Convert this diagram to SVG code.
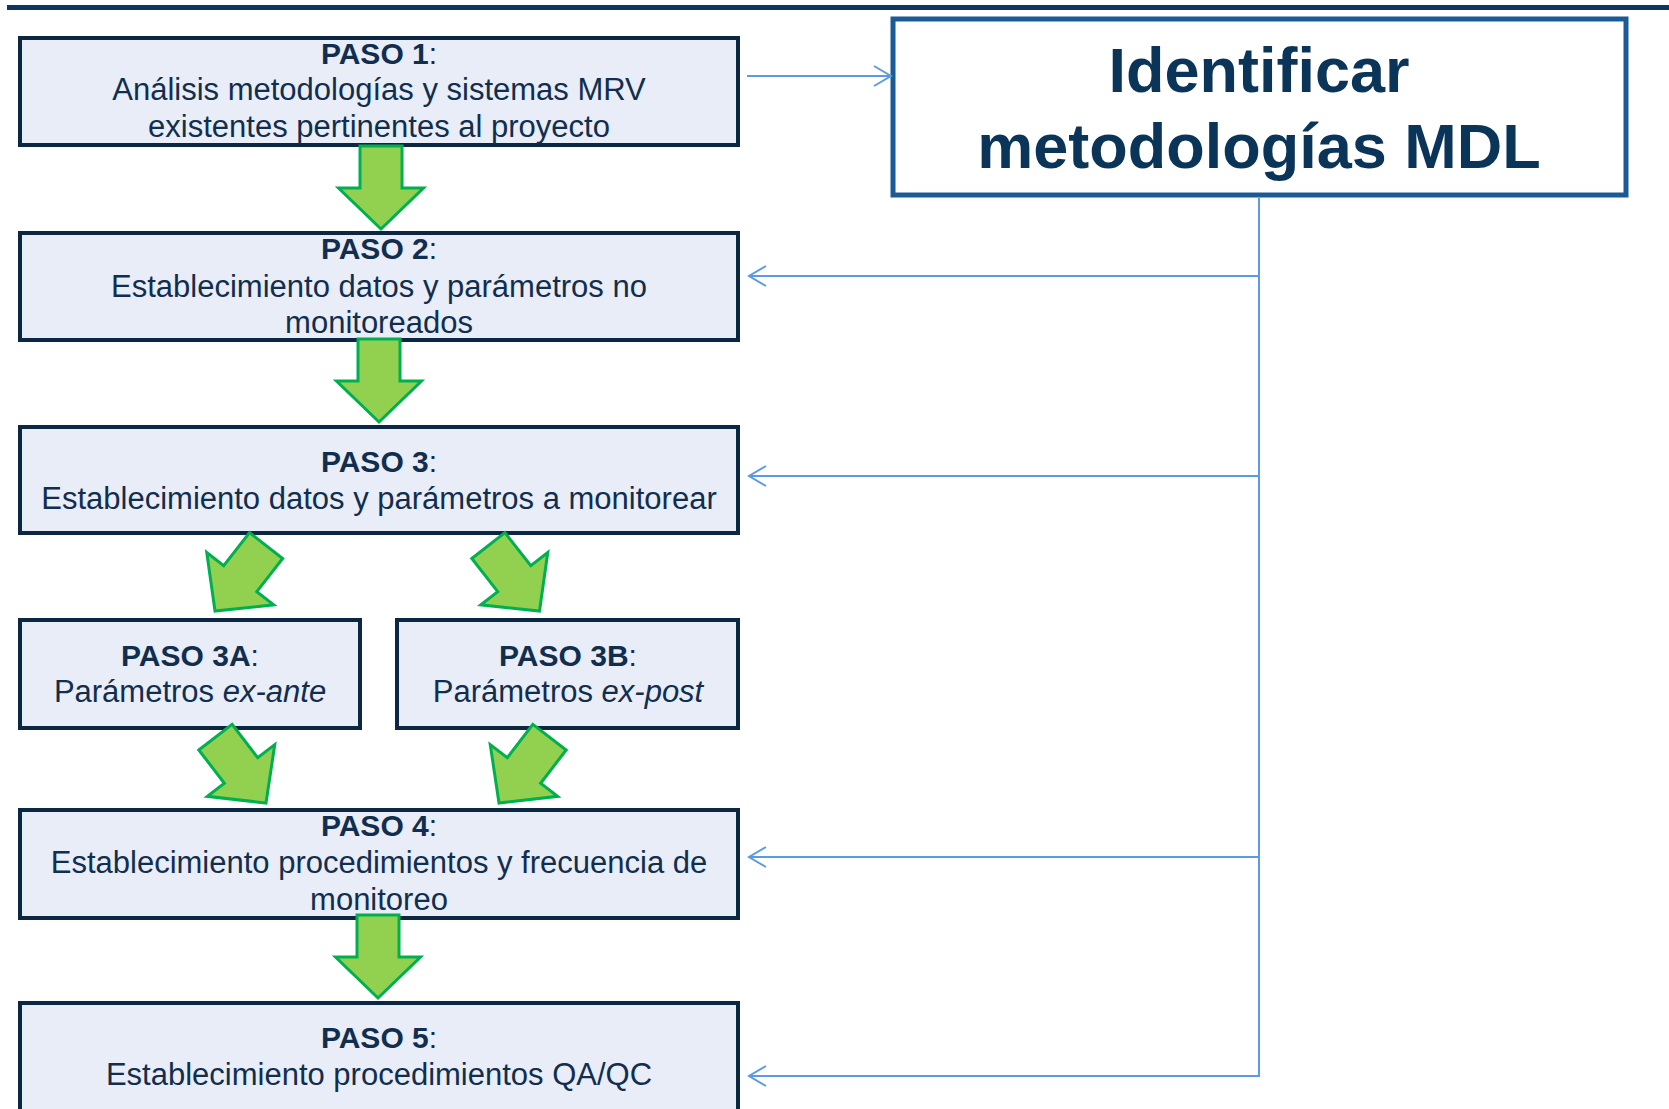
<svg xmlns="http://www.w3.org/2000/svg" width="1669" height="1109" viewBox="0 0 1669 1109">
  <style>
    .box { fill: #e9edf8; stroke: #0c2741; stroke-width: 4; }
    .t { font-family: "Liberation Sans", Arial, sans-serif; font-size: 31px; fill: #112e4e; text-anchor: middle; }
    .b { font-weight: bold; font-size: 30px; }
    .c { font-size: 30px; }
    .i { font-style: italic; }
    .big { font-family: "Liberation Sans", Arial, sans-serif; font-size: 63px; font-weight: bold; fill: #0b3558; text-anchor: middle; }
    .link { fill: none; stroke: #5b9be0; stroke-width: 2; }
    .garrow { fill: #92d050; stroke: #00b050; stroke-width: 3; stroke-linejoin: miter; }
  </style>
  <defs>
    <marker id="open" markerUnits="userSpaceOnUse" markerWidth="24" markerHeight="24" viewBox="-20 -12 22 24" refX="0" refY="0" orient="auto">
      <path d="M -17 -10 L 0 0 L -17 10" fill="none" stroke="#5b9be0" stroke-width="2"/>
    </marker>
    <polygon id="ga" points="-21,-83 21,-83 21,-41 42.5,-41 0,0 -42.5,-41 -21,-41"/>
  </defs>

  <rect x="7" y="5" width="1662" height="5" fill="#0f3562"/>

  <g id="paso1">
    <rect class="box" x="20" y="38" width="718" height="107"/>
    <text class="t" x="379" y="64"><tspan class="b">PASO 1</tspan><tspan class="c">:</tspan></text>
    <text class="t" x="379" y="100">Análisis metodologías y sistemas MRV</text>
    <text class="t" x="379" y="137">existentes pertinentes al proyecto</text>
  </g>

  <g id="paso2">
    <rect class="box" x="20" y="233" width="718" height="107"/>
    <text class="t" x="379" y="259"><tspan class="b">PASO 2</tspan><tspan class="c">:</tspan></text>
    <text class="t" x="379" y="297">Establecimiento datos y parámetros no</text>
    <text class="t" x="379" y="333">monitoreados</text>
  </g>

  <g id="paso3">
    <rect class="box" x="20" y="427" width="718" height="106"/>
    <text class="t" x="379" y="472"><tspan class="b">PASO 3</tspan><tspan class="c">:</tspan></text>
    <text class="t" x="379" y="509">Establecimiento datos y parámetros a monitorear</text>
  </g>

  <g id="paso3a">
    <rect class="box" x="20" y="620" width="340" height="108"/>
    <text class="t" x="190" y="666"><tspan class="b">PASO 3A</tspan><tspan class="c">:</tspan></text>
    <text class="t" x="190" y="702">Parámetros <tspan class="i">ex-ante</tspan></text>
  </g>

  <g id="paso3b">
    <rect class="box" x="397" y="620" width="341" height="108"/>
    <text class="t" x="568" y="666"><tspan class="b">PASO 3B</tspan><tspan class="c">:</tspan></text>
    <text class="t" x="568" y="702">Parámetros <tspan class="i">ex-post</tspan></text>
  </g>

  <g id="paso4">
    <rect class="box" x="20" y="810" width="718" height="108"/>
    <text class="t" x="379" y="836"><tspan class="b">PASO 4</tspan><tspan class="c">:</tspan></text>
    <text class="t" x="379" y="873">Establecimiento procedimientos y frecuencia de</text>
    <text class="t" x="379" y="910">monitoreo</text>
  </g>

  <g id="paso5">
    <rect class="box" x="20" y="1003" width="718" height="120"/>
    <text class="t" x="379" y="1048"><tspan class="b">PASO 5</tspan><tspan class="c">:</tspan></text>
    <text class="t" x="379" y="1085">Establecimiento procedimientos QA/QC</text>
  </g>

  <g id="mdl">
    <rect x="893" y="19" width="733" height="176" fill="#ffffff" stroke="#1a5a95" stroke-width="5"/>
    <text class="big" x="1259" y="92">Identificar</text>
    <text class="big" x="1259" y="168">metodologías MDL</text>
  </g>

  <g id="connectors">
    <path class="link" d="M 747 76 L 891 76" marker-end="url(#open)"/>
    <path class="link" d="M 1259 198 L 1259 1076"/>
    <path class="link" d="M 1259 276 L 749 276" marker-end="url(#open)"/>
    <path class="link" d="M 1259 476 L 749 476" marker-end="url(#open)"/>
    <path class="link" d="M 1259 857 L 749 857" marker-end="url(#open)"/>
    <path class="link" d="M 1260 1076 L 749 1076" marker-end="url(#open)"/>

    <use href="#ga" class="garrow" transform="translate(381,229)"/>
    <use href="#ga" class="garrow" transform="translate(379,422)"/>
    <use href="#ga" class="garrow" transform="translate(215,611) rotate(38)"/>
    <use href="#ga" class="garrow" transform="translate(539.5,611) rotate(-38)"/>
    <use href="#ga" class="garrow" transform="translate(266,803) rotate(-37.5)"/>
    <use href="#ga" class="garrow" transform="translate(499,803) rotate(37.5)"/>
    <use href="#ga" class="garrow" transform="translate(378,998)"/>
  </g>
</svg>
